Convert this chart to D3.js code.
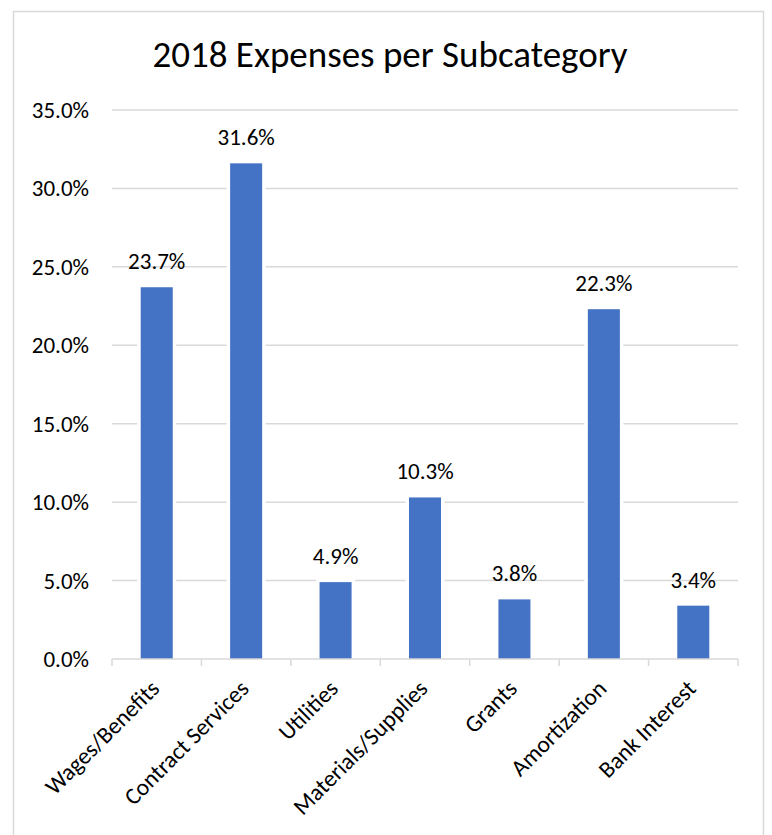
<!DOCTYPE html>
<html><head><meta charset="utf-8">
<script src="https://cdn.jsdelivr.net/npm/d3@7/dist/d3.min.js"></script>
<style>
html,body{margin:0;padding:0;background:#fff;}
svg{display:block;}
text{font-family:Carlito,Lato,"Open Sans",sans-serif;fill:#000;}
</style></head>
<body>
<script>
const title = "2018 Expenses per Subcategory";
const categories = ["Wages/Benefits","Contract Services","Utilities","Materials/Supplies","Grants","Amortization","Bank Interest"];
const values = [23.7, 31.6, 4.9, 10.3, 3.8, 22.3, 3.4];
const yTicks = [0,5,10,15,20,25,30,35];

const W = 772, H = 835;
const svg = d3.select("body").append("svg").attr("width", W).attr("height", H);

svg.append("rect").attr("x",13.5).attr("y",11.5).attr("width",750).attr("height",830)
  .attr("fill","#fff").attr("stroke","#d9d9d9").attr("stroke-width",1.5);

const L = 112, R = 738, T = 110, B = 659;
const x = d3.scaleBand().domain(categories).range([L, R]).paddingInner(0).paddingOuter(0);
const y = d3.scaleLinear().domain([0, 35]).range([B, T]);

svg.append("text").attr("x", 390).attr("y", 67).attr("text-anchor","middle")
  .style("font-size","37px").text(title);

// gridlines
svg.append("g").selectAll("line").data(yTicks.filter(d=>d>0)).join("line")
  .attr("x1", L).attr("x2", R).attr("y1", d=>y(d)).attr("y2", d=>y(d))
  .attr("stroke","#d9d9d9").attr("stroke-width",1.5);

// y tick labels
svg.append("g").selectAll("text").data(yTicks).join("text")
  .attr("x", 89).attr("y", d=>y(d)).attr("dy","0.35em").attr("text-anchor","end")
  .style("font-size","23px").text(d=>d.toFixed(1)+"%");

// bars
const bw = x.bandwidth()*0.358;
svg.append("g").selectAll("rect").data(values).join("rect")
  .attr("x", (d,i)=>x(categories[i]) + (x.bandwidth()-bw)/2)
  .attr("y", d=>y(d)).attr("width", bw).attr("height", d=>y(0)-y(d))
  .attr("fill","#4472c4").attr("stroke","#fff").attr("stroke-width",7)
  .attr("paint-order","stroke");

// data labels
svg.append("g").selectAll("text").data(values).join("text")
  .attr("x", (d,i)=>x(categories[i]) + x.bandwidth()/2)
  .attr("y", d=>y(d)-18).attr("text-anchor","middle")
  .style("font-size","23px").text(d=>d.toFixed(1)+"%");

// x axis
svg.append("line").attr("x1",L).attr("x2",R).attr("y1",B).attr("y2",B)
  .attr("stroke","#d9d9d9").attr("stroke-width",1.5);
const bounds = categories.map(c=>x(c)).concat([R]);
svg.append("g").selectAll("line").data(bounds).join("line")
  .attr("x1",d=>d).attr("x2",d=>d).attr("y1",B).attr("y2",B+7)
  .attr("stroke","#d9d9d9").attr("stroke-width",1.5);

svg.append("g").selectAll("text").data(categories).join("text")
  .attr("transform", c=>`translate(${x(c)+x.bandwidth()/2+4},${B+31}) rotate(-45)`)
  .attr("text-anchor","end")
  .style("font-size","23.5px").text(c=>c);
</script>
</body></html>
